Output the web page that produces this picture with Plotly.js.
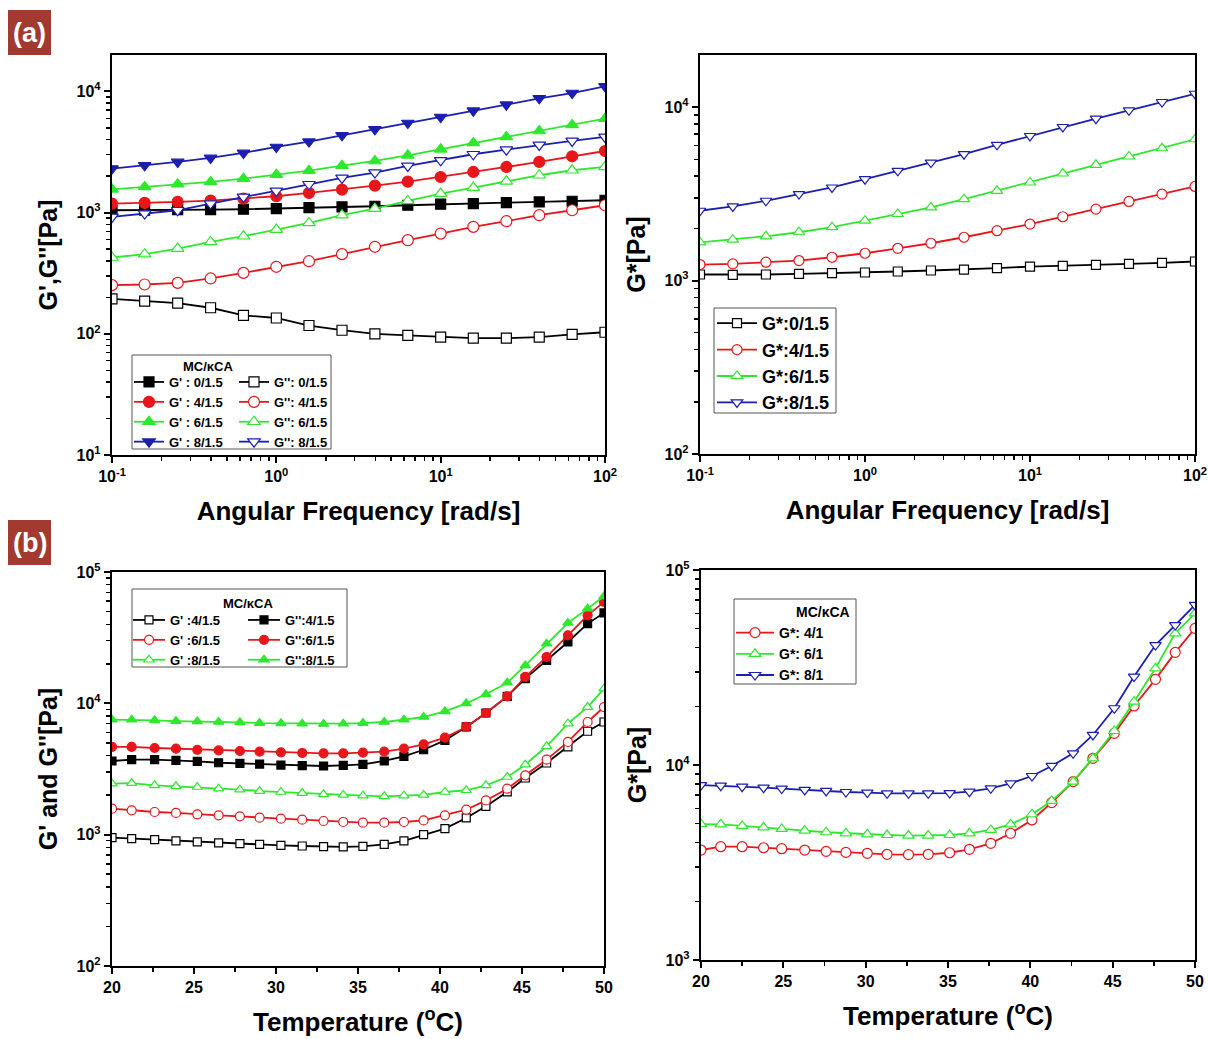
<!DOCTYPE html>
<html><head><meta charset="utf-8">
<script src="https://cdn.plot.ly/plotly-3.0.1.min.js"></script>
<style>body{margin:0;background:#fff}#chart{width:1208px;height:1039px}</style>
</head><body><div id="chart"></div><script>
// ---------- data ----------
const freq = [0.1,0.158,0.251,0.398,0.631,1,1.58,2.51,3.98,6.31,10,15.8,25.1,39.8,63.1,100];
const gp0  = [1045,1045,1059,1059,1065,1078,1099,1113,1128,1149,1172,1186,1208,1225,1240,1264];
const gpp0 = [194,186,179,164,142,135,117,107,100,97,94,92,92,94,99,103];
const gp4  = [1186,1202,1225,1256,1304,1364,1453,1548,1670,1800,1966,2163,2378,2617,2913,3222];
const gpp4 = [252,255,263,286,318,357,397,454,522,592,671,763,849,951,1045,1149];
const gp6  = [1556,1630,1714,1791,1906,2056,2219,2440,2665,2969,3328,3753,4205,4710,5281,5960];
const gpp6 = [426,454,505,573,638,724,822,951,1078,1247,1434,1608,1812,2032,2234,2378];
const gp8  = [2307,2455,2617,2824,3105,3477,3848,4337,4864,5483,6142,6930,7770,8755,9690,10990];
const gpp8 = [921,982,1045,1186,1346,1510,1712,1930,2137,2425,2700,3028,3305,3613,3898,4210];

const gs0 = [1083,1078,1083,1093,1102,1112,1127,1142,1157,1178,1204,1215,1231,1248,1265,1287];
const gs4 = [1236,1247,1275,1303,1362,1436,1534,1640,1776,1938,2116,2332,2581,2857,3148,3486];
const gs6 = [1661,1721,1799,1898,2029,2215,2418,2639,2946,3289,3673,4138,4645,5188,5786,6520];
const gs8 = [2525,2673,2882,3150,3438,3839,4287,4786,5347,6053,6811,7674,8572,9570,10690,11930];

const tempL = [20,21.2,22.6,23.9,25.2,26.5,27.8,29.0,30.3,31.6,32.9,34.1,35.3,36.6,37.8,39.0,40.3,41.6,42.8,44.1,45.2,46.5,47.8,49.0,50.0];
const tGp4  = [948,933,917,896,880,865,854,844,829,820,811,806,815,844,896,1000,1111,1341,1643,2114,2700,3513,4655,6130,7210];
const tGpp4 = [3639,3725,3725,3681,3614,3530,3490,3450,3390,3350,3333,3372,3433,3639,3947,4433,5224,6608,8440,11300,15420,21250,29300,40460,48760];
const tGp6  = [1578,1531,1488,1463,1428,1403,1379,1347,1324,1300,1271,1249,1234,1234,1249,1284,1403,1549,1823,2240,2830,3727,5080,7210,9370];
const tGpp6 = [4653,4653,4570,4518,4430,4380,4335,4285,4237,4188,4165,4165,4212,4285,4518,4875,5480,6610,8440,11300,15880,22540,32960,46780,59140];
const tGp8  = [2444,2472,2374,2333,2306,2240,2202,2149,2113,2075,2029,2006,1983,1960,1983,2006,2113,2178,2374,2748,3410,4710,7000,9370,12940];
const tGpp8 = [7510,7510,7430,7330,7290,7210,7170,7080,7040,7000,6960,7000,7080,7210,7510,7870,8690,10000,11730,14360,19440,28430,40900,52600,65300];

const tempR = [20,21.2,22.5,23.8,24.9,26.3,27.6,28.8,30.1,31.3,32.6,33.8,35.1,36.3,37.6,38.8,40.1,41.3,42.6,43.8,45.1,46.3,47.6,48.8,50];
const tGs4 = [3664,3812,3812,3764,3723,3664,3607,3563,3524,3484,3470,3484,3548,3696,3966,4466,5226,6410,8220,10820,14530,20080,27500,37810,50200];
const tGs6 = [4980,4960,4870,4790,4700,4610,4520,4465,4410,4375,4345,4345,4375,4465,4645,4960,5590,6540,8220,10820,14940,21130,31320,47300,59950];
const tGs8 = [7890,7830,7740,7650,7570,7450,7360,7270,7220,7160,7160,7160,7180,7300,7590,8050,8780,9890,11480,14260,19540,28400,41200,52200,66200];

const freqTickVals = [0.1,1,10,100];
const freqTickText = ['10<sup>-1</sup>','10<sup>0</sup>','10<sup>1</sup>','10<sup>2</sup>'];
const modTickVals  = [10,100,1000,10000,100000];
const modTickText  = ['10<sup>1</sup>','10<sup>2</sup>','10<sup>3</sup>','10<sup>4</sup>','10<sup>5</sup>'];

// ---------- styles ----------
const FONT = 'Liberation Sans, Arial, sans-serif';
const BLACK = '#000000', RED = '#e8161a', GREEN = '#2ee82e', BLUE = '#1b1fb0';

function tr(x, y, name, color, symbol, filled, xa, ya, legend, size) {
  return {
    x: x, y: y, name: name, type: 'scatter', mode: 'lines+markers',
    xaxis: xa, yaxis: ya, legend: legend,
    line: {color: color, width: 1.8},
    marker: {symbol: symbol, size: size,
      color: filled ? color : '#ffffff',
      line: {color: color, width: 1.2}}
  };
}

const data = [
  // (a) left
  tr(freq, gp0, "G' : 0/1.5", BLACK, 'square', true, 'x', 'y', 'legend', 10),
  tr(freq, gp4, "G' : 4/1.5", RED, 'circle', true, 'x', 'y', 'legend', 11),
  tr(freq, gp6, "G' : 6/1.5", GREEN, 'triangle-up', true, 'x', 'y', 'legend', 11),
  tr(freq, gp8, "G' : 8/1.5", BLUE, 'triangle-down', true, 'x', 'y', 'legend', 11),
  tr(freq, gpp0, "G'': 0/1.5", BLACK, 'square', false, 'x', 'y', 'legend2', 10),
  tr(freq, gpp4, "G'': 4/1.5", RED, 'circle', false, 'x', 'y', 'legend2', 11),
  tr(freq, gpp6, "G'': 6/1.5", GREEN, 'triangle-up', false, 'x', 'y', 'legend2', 11),
  tr(freq, gpp8, "G'': 8/1.5", BLUE, 'triangle-down', false, 'x', 'y', 'legend2', 11),
  // (a) right
  tr(freq, gs0, 'G*:0/1.5', BLACK, 'square', false, 'x2', 'y2', 'legend3', 9),
  tr(freq, gs4, 'G*:4/1.5', RED, 'circle', false, 'x2', 'y2', 'legend3', 10),
  tr(freq, gs6, 'G*:6/1.5', GREEN, 'triangle-up', false, 'x2', 'y2', 'legend3', 10),
  tr(freq, gs8, 'G*:8/1.5', BLUE, 'triangle-down', false, 'x2', 'y2', 'legend3', 10),
  // (b) left
  tr(tempL, tGp4, "G' :4/1.5", BLACK, 'square', false, 'x3', 'y3', 'legend4', 8),
  tr(tempL, tGp6, "G' :6/1.5", RED, 'circle', false, 'x3', 'y3', 'legend4', 9),
  tr(tempL, tGp8, "G' :8/1.5", GREEN, 'triangle-up', false, 'x3', 'y3', 'legend4', 9),
  tr(tempL, tGpp4, "G'':4/1.5", BLACK, 'square', true, 'x3', 'y3', 'legend5', 8),
  tr(tempL, tGpp6, "G'':6/1.5", RED, 'circle', true, 'x3', 'y3', 'legend5', 9),
  tr(tempL, tGpp8, "G'':8/1.5", GREEN, 'triangle-up', true, 'x3', 'y3', 'legend5', 9),
  // (b) right
  tr(tempR, tGs4, 'G*: 4/1', RED, 'circle', false, 'x4', 'y4', 'legend6', 10),
  tr(tempR, tGs6, 'G*: 6/1', GREEN, 'triangle-up', false, 'x4', 'y4', 'legend6', 10),
  tr(tempR, tGs8, 'G*: 8/1', BLUE, 'triangle-down', false, 'x4', 'y4', 'legend6', 10)
];

const W = 1208, H = 1039;
const px = v => v / W;
const py = v => 1 - v / H;

function minorLog(lo, hi) {
  const out = [];
  for (let d = lo; d < hi; d++) for (let k = 2; k <= 9; k++) out.push(k * Math.pow(10, d));
  return out;
}
const TITLE_FONT = s => ({family: FONT, size: s, color: '#000', weight: 'bold'});

function axBase(extra) {
  return Object.assign({
    showline: true, linewidth: 2.2, linecolor: '#000', mirror: true,
    ticks: 'outside', ticklen: 6, tickwidth: 2, tickcolor: '#000',
    showgrid: false, zeroline: false,
    tickfont: {family: FONT, size: 16, color: '#000', weight: 'bold'}
  }, extra);
}
function logAx(domain, lo, hi, anchor, tv, tt, title, standoff, tsize) {
  return axBase({
    type: 'log', domain: domain, range: [lo, hi], anchor: anchor,
    tickmode: 'array', tickvals: tv, ticktext: tt,
    minor: {tickmode: 'array', tickvals: minorLog(Math.floor(lo), Math.ceil(hi)), ticks: 'outside', ticklen: 3.5, tickwidth: 1.5, tickcolor: '#000'},
    title: {text: title, standoff: standoff, font: TITLE_FONT(tsize)}
  });
}
function linAx(domain, anchor, title, standoff) {
  return axBase({
    domain: domain, range: [20, 50], anchor: anchor,
    tickmode: 'linear', tick0: 20, dtick: 5,
    minor: {tickmode: 'linear', tick0: 20, dtick: 2.5, ticks: 'outside', ticklen: 3.5, tickwidth: 1.5, tickcolor: '#000'},
    title: {text: title, standoff: standoff, font: TITLE_FONT(26)}
  });
}

function leg(x, y, size, extra) {
  return Object.assign({
    x: px(x), y: py(y), xanchor: 'left', yanchor: 'top',
    bgcolor: 'rgba(0,0,0,0)', borderwidth: 0, tracegroupgap: 0,
    itemwidth: 30, itemclick: false,
    font: {family: FONT, size: size, color: '#000', weight: 'bold'}
  }, extra || {});
}
function box(x0, x1, y0, y1) {
  return {type: 'rect', xref: 'paper', yref: 'paper', x0: px(x0), x1: px(x1), y0: py(y1), y1: py(y0),
          line: {color: '#555', width: 1}, fillcolor: 'rgba(255,255,255,0)'};
}
function note(text, x, y, size, color, xanchor) {
  return {text: text, xref: 'paper', yref: 'paper', x: px(x), y: py(y), xanchor: xanchor || 'center', yanchor: 'middle',
          showarrow: false, font: {family: FONT, size: size, color: color, weight: 'bold'}};
}

const layout = {
  width: W, height: H,
  margin: {l: 0, r: 0, t: 0, b: 0},
  paper_bgcolor: '#fff', plot_bgcolor: '#fff',
  showlegend: true,
  xaxis:  logAx([px(112), px(605)], -1, 2, 'y', freqTickVals, freqTickText, 'Angular Frequency [rad/s]', 17, 26),
  yaxis:  logAx([py(455), py(55)], 1, 4.3, 'x', modTickVals, modTickText, "G',G''[Pa]", 12, 25),
  xaxis2: logAx([px(700), px(1195)], -1, 2, 'y2', freqTickVals, freqTickText, 'Angular Frequency [rad/s]', 17, 26),
  yaxis2: logAx([py(454), py(55)], 2, 4.3, 'x2', modTickVals, modTickText, 'G*[Pa]', 12, 25),
  xaxis3: linAx([px(112), px(604)], 'y3', 'Temperature (<sup>o</sup>C)', 17),
  yaxis3: logAx([py(966), py(572)], 2, 5, 'x3', modTickVals, modTickText, "G' and G''[Pa]", 12, 25),
  xaxis4: linAx([px(701), px(1195)], 'y4', 'Temperature (<sup>o</sup>C)', 17),
  yaxis4: logAx([py(960), py(570)], 3, 5, 'x4', modTickVals, modTickText, 'G*[Pa]', 12, 25),
  legend:  leg(129, 367, 13),
  legend2: leg(234, 367, 13),
  legend3: leg(712, 305, 18, {itemwidth: 40}),
  legend4: leg(128, 605, 13, {itemwidth: 32}),
  legend5: leg(243, 605, 13, {itemwidth: 32}),
  legend6: leg(731, 617, 14, {itemwidth: 38}),
  shapes: [
    box(132, 331, 355, 449),
    box(714, 836, 308, 413),
    box(132, 347, 589, 667),
    box(734, 856, 599, 684),
    {type: 'rect', xref: 'paper', yref: 'paper', x0: px(8), x1: px(51), y0: py(55), y1: py(10), line: {width: 0}, fillcolor: '#a33a30'},
    {type: 'rect', xref: 'paper', yref: 'paper', x0: px(8), x1: px(51), y0: py(565), y1: py(520), line: {width: 0}, fillcolor: '#a33a30'}
  ],
  annotations: [
    note('MC/κCA', 208, 366, 13, '#000'),
    note('MC/κCA', 248, 603, 13, '#000'),
    note('MC/κCA', 852, 612, 14, '#000', 'right'),
    note('(a)', 29.5, 32.5, 27, '#fff'),
    note('(b)', 29.5, 542.5, 27, '#fff')
  ]
};

Plotly.newPlot('chart', data, layout, {staticPlot: true, displayModeBar: false});
</script></body></html>
